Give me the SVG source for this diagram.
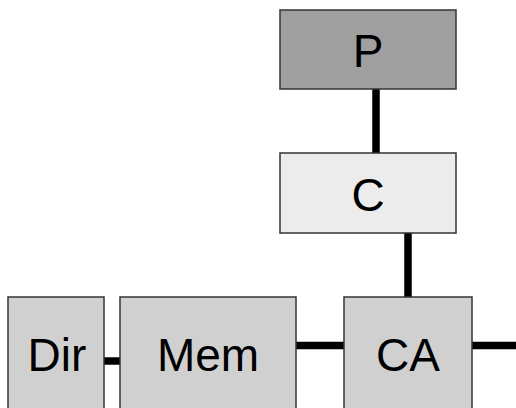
<svg xmlns="http://www.w3.org/2000/svg" width="516" height="408" viewBox="0 0 516 408">
<style>
.box{stroke:#333;stroke-width:1.5}
.lbl{font-family:"Liberation Sans",Arial,sans-serif;font-size:46px;text-anchor:middle;fill:#000}
.con{stroke:#000;stroke-width:7.5;fill:none}
</style>
<rect width="516" height="408" fill="#fff"/>
<g id="connectors">
<line class="con" x1="376" y1="89" x2="376" y2="153"/>
<line class="con" x1="408" y1="233" x2="408" y2="297"/>
<line class="con" x1="104" y1="361" x2="120" y2="361"/>
<line class="con" x1="296" y1="345.5" x2="344" y2="345.5"/>
<line class="con" x1="472" y1="345.5" x2="516" y2="345.5"/>
</g>
<g id="P"><rect class="box" x="280" y="10" width="176" height="79" fill="#a0a0a0"/><text class="lbl" x="368" y="67">P</text></g>
<g id="C"><rect class="box" x="280" y="153" width="176" height="80" fill="#ececec"/><text class="lbl" x="368" y="211">C</text></g>
<g id="Dir"><rect class="box" x="8" y="297" width="96" height="120" fill="#d0d0d0"/><text class="lbl" x="57" y="371">Dir</text></g>
<g id="Mem"><rect class="box" x="120" y="297" width="176" height="120" fill="#d0d0d0"/><text class="lbl" x="208" y="371">Mem</text></g>
<g id="CA"><rect class="box" x="344" y="297" width="128" height="120" fill="#d0d0d0"/><text class="lbl" x="408" y="371">CA</text></g>
</svg>
